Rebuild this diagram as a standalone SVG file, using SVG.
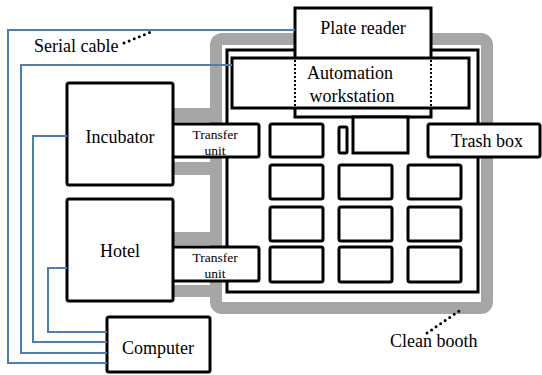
<svg xmlns="http://www.w3.org/2000/svg" width="542" height="375" viewBox="0 0 542 375">
<style>
.box{fill:#fff;stroke:#000;stroke-width:3}
.plate{fill:#fff;stroke:#000;stroke-width:3}
.gray{fill:#a6a6a6}
.cable{fill:none;stroke:#4a7ebb;stroke-width:2}
.dots{fill:none;stroke:#000;stroke-width:3;stroke-linecap:round;stroke-dasharray:0 5.5}
.vdots{fill:none;stroke:#000;stroke-width:2;stroke-dasharray:2 2}
text{font-family:"Liberation Serif","Times New Roman",serif;fill:#000}
.t{font-size:18px;text-anchor:middle}
.s{font-size:13.5px;text-anchor:middle}
</style>
<rect width="542" height="375" fill="#fff"/>
<g id="clean-booth">
<rect x="216" y="39" width="271" height="269" rx="6" fill="none" stroke="#a6a6a6" stroke-width="12"/>
<rect class="gray" x="173" y="108" width="45" height="14"/>
<rect class="gray" x="173" y="162" width="45" height="13"/>
<rect class="gray" x="173" y="232" width="45" height="13"/>
<rect class="gray" x="173" y="285" width="45" height="12"/>
<rect x="227" y="50" width="251" height="242" fill="none" stroke="#000" stroke-width="3"/>
</g>
<g id="plates">
<rect class="plate" x="270" y="124" width="53" height="33" rx="2"/>
<rect class="plate" x="339" y="127" width="8" height="26" rx="1.5"/>
<rect class="plate" x="270" y="165" width="53" height="34" rx="2"/>
<rect class="plate" x="339" y="165" width="53" height="34" rx="2"/>
<rect class="plate" x="408" y="165" width="53" height="34" rx="2"/>
<rect class="plate" x="270" y="207" width="53" height="34" rx="2"/>
<rect class="plate" x="339" y="207" width="53" height="34" rx="2"/>
<rect class="plate" x="408" y="207" width="53" height="34" rx="2"/>
<rect class="plate" x="270" y="247" width="53" height="35" rx="2"/>
<rect class="plate" x="339" y="247" width="53" height="35" rx="2"/>
<rect class="plate" x="408" y="247" width="53" height="35" rx="2"/>
</g>
<g id="plate-reader">
<rect class="box" x="295" y="8" width="136" height="109"/>
<rect class="box" x="353" y="117" width="55" height="36"/>
<text class="t" x="363" y="34">Plate reader</text>
</g>
<g id="automation-workstation">
<rect class="box" x="232" y="58" width="237" height="50"/>
<line class="vdots" x1="295" y1="60" x2="295" y2="106"/>
<line class="vdots" x1="431" y1="60" x2="431" y2="106"/>
<text class="t" x="350" y="79">Automation</text>
<text class="t" x="352" y="102">workstation</text>
</g>
<g id="trash-box">
<rect class="box" x="428" y="124" width="112" height="33" rx="2"/>
<text class="t" x="487" y="147">Trash box</text>
</g>
<g id="transfer-unit-1">
<rect class="box" x="172" y="124" width="87" height="33" rx="2"/>
<text class="s" x="215" y="139">Transfer</text>
<text class="s" x="215" y="155">unit</text>
</g>
<g id="transfer-unit-2">
<rect class="box" x="172" y="247" width="87" height="34" rx="2"/>
<text class="s" x="215" y="262">Transfer</text>
<text class="s" x="215" y="278">unit</text>
</g>
<g id="incubator">
<rect class="box" x="67" y="83" width="106" height="102" rx="2"/>
<text class="t" x="120" y="143">Incubator</text>
</g>
<g id="hotel">
<rect class="box" x="67" y="199" width="106" height="102" rx="2"/>
<text class="t" x="120" y="257">Hotel</text>
</g>
<g id="computer">
<rect class="box" x="107" y="317" width="103" height="55" rx="2"/>
<text class="t" x="158" y="354">Computer</text>
</g>
<g id="connectors">
<polyline class="cable" points="295,30 8,30 8,363 107,363"/>
<polyline class="cable" points="232,65 21,65 21,353 107,353"/>
<polyline class="cable" points="67,136 33,136 33,342 107,342"/>
<polyline class="cable" points="67,268 48,268 48,332 107,332"/>
<line class="dots" x1="124" y1="43" x2="151" y2="32"/>
<line class="dots" x1="427" y1="333" x2="462" y2="309"/>
</g>
<g id="labels">
<text x="34" y="52" style="font-size:18px">Serial cable</text>
<text x="390" y="347" style="font-size:18px">Clean booth</text>
</g>
</svg>
